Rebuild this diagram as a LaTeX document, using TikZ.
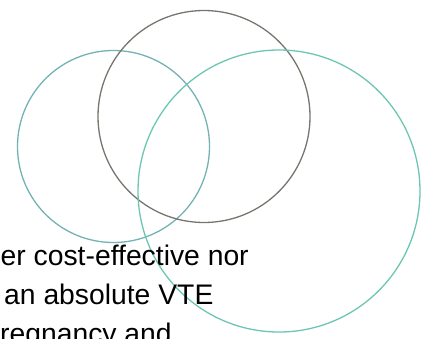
\documentclass[tikz,border=0pt]{standalone}
\usepackage{fontspec}
\setmainfont{Liberation Sans}
\definecolor{leftc}{HTML}{74B2B4}
\definecolor{darkc}{HTML}{7A746E}
\definecolor{rightc}{HTML}{6CC6B2}
\begin{document}
\begin{tikzpicture}[x=1pt,y=-1pt,
  ring/.style={line width=1.3pt},
  txt/.style={anchor=base west,inner sep=0pt,font=\fontsize{28.3}{39}\selectfont}]
\useasboundingbox (0,0) rectangle (425,338);
\clip (0,0) rectangle (425,338);
\draw[ring,leftc] (113.5,146.5) circle[radius=96];
\draw[ring,darkc] (204,116.5) circle[radius=106];
\draw[ring,rightc] (279,191) circle[radius=141];
\node[txt] (l1) at (0.5,265) {er cost-effective nor};
\node[txt] (l2) at (4,304) {an absolute VTE};
\node[txt] (l3) at (0,343) {regnancy and};
\end{tikzpicture}
\end{document}
